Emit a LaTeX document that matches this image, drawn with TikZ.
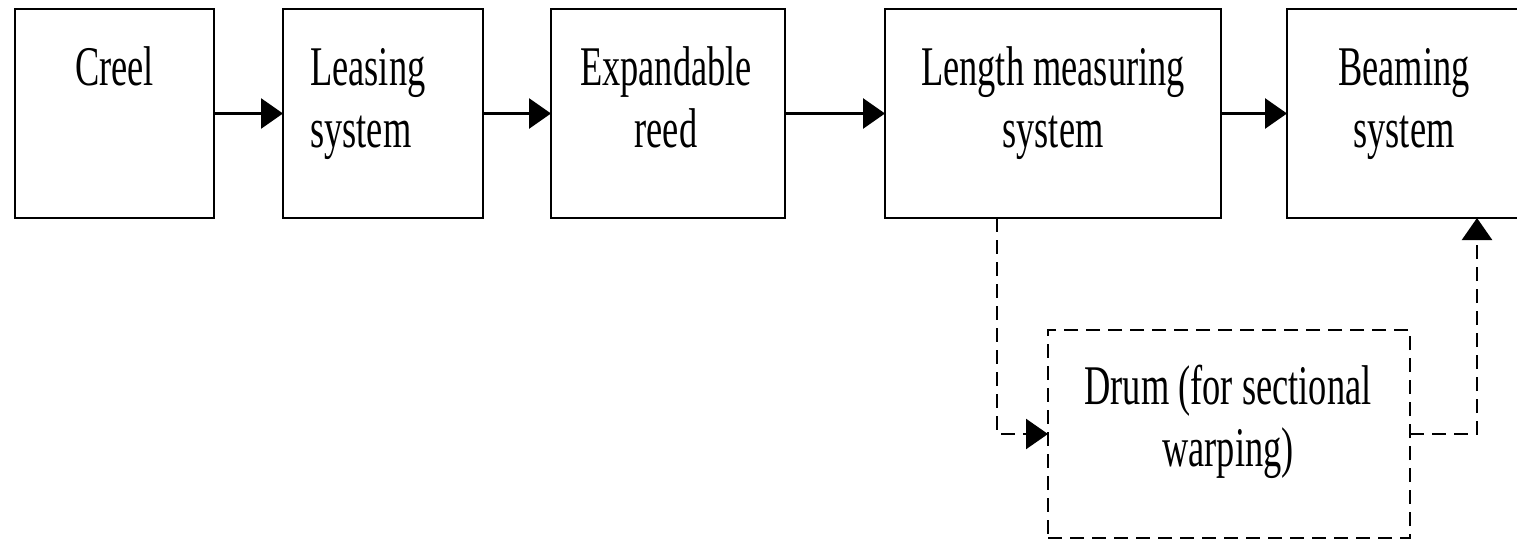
\documentclass[tikz,border=0pt]{standalone}
\usepackage{fontspec}
\setmainfont[FakeStretch=0.65]{Liberation Serif}
\usetikzlibrary{arrows.meta,calc}
\begin{document}
\begin{tikzpicture}[x=1pt,y=-1pt,
  box/.style={draw, line width=2.6pt, minimum width=#1, minimum height=209pt, inner sep=0pt, outer sep=0pt},
  dbox/.style={draw, line width=2.4pt, dash pattern=on 14pt off 8pt, minimum width=362pt, minimum height=208pt, inner sep=0pt, outer sep=0pt},
  txt/.style={anchor=north, inner sep=0pt, align=center, font=\fontsize{56}{62}\selectfont},
  arr/.style={-{Triangle[length=22pt,width=30pt]}, line width=2.8pt},
  darr/.style={-{Triangle[length=22pt,width=30pt]}, line width=2.4pt, dash pattern=on 14pt off 8pt}
]
\useasboundingbox (0,0) rectangle (1517,543);
% boxes
\node[box=199pt] (creel) at (114.5,113.5) {};
\node[box=200pt] (leasing) at (383,113.5) {};
\node[box=234pt] (reed) at (668,113.5) {};
\node[box=336pt] (length) at (1053,113.5) {};
\node[box=239pt] (beaming) at (1406.5,113.5) {};
\node[dbox] (drum) at (1229,434) {};
% texts
\node[txt] (creel-t) at (114.5,41.6) {\strut Creel};
\node[txt, anchor=north west, align=left] (leasing-t) at (310,41.6) {\strut Leasing\\\strut system};
\node[txt] (reed-t) at (666,41.6) {\strut Expandable\\\strut reed};
\node[txt] (length-t) at (1053,41.6) {\strut Length measuring\\\strut system};
\node[txt] (beaming-t) at (1404,41.6) {\strut Beaming\\\strut system};
\node[txt] (drum-t) at (1228,360.6) {\strut Drum (for sectional\\\strut warping)};
% connectors
\draw[arr] (creel.east) -- (leasing.west);
\draw[arr] (leasing.east) -- (reed.west);
\draw[arr] (reed.east) -- (length.west);
\draw[arr] (length.east) -- (beaming.west);
\draw[darr] ([xshift=112pt]length.south west) |- (drum.west);
\draw[darr] (drum.east) -| ([xshift=190pt]beaming.south west);
\end{tikzpicture}
\end{document}
